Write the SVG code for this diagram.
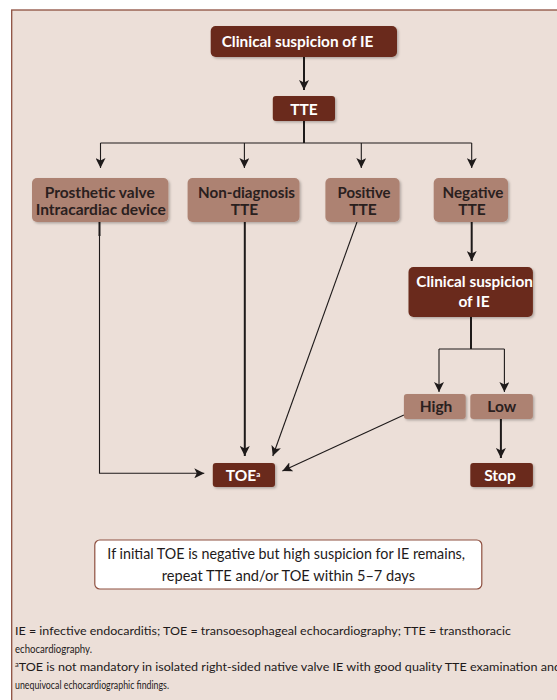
<svg xmlns="http://www.w3.org/2000/svg" width="557" height="700" viewBox="0 0 557 700">
<style>
.dark{fill:#6b2b1b}
.light{fill:#ad8272}
.tw{font-family:Lato,"Liberation Sans",sans-serif;font-weight:bold;font-size:15.5px;fill:#ffffff;text-anchor:middle}
.td{font-family:Lato,"Liberation Sans",sans-serif;font-weight:bold;font-size:15.5px;fill:#2a201e;text-anchor:middle}
.thin{stroke:#1e1a1a;stroke-width:1.1;fill:none}
.thick{stroke:#1e1a1a;stroke-width:2;fill:none}
.note{font-family:Lato,"Liberation Sans",sans-serif;font-size:15px;fill:#1e1a1a;text-anchor:middle}
.foot{font-family:Lato,"Liberation Sans",sans-serif;font-size:12px;fill:#1e1a1a}
</style>
<defs>
<filter id="sh" x="-20%" y="-20%" width="150%" height="160%">
<feDropShadow dx="1.5" dy="1.5" stdDeviation="1.2" flood-color="#000" flood-opacity="0.25"/>
</filter>
<marker id="ah" viewBox="0 0 10 10" refX="10" refY="5" markerWidth="10" markerHeight="10" markerUnits="userSpaceOnUse" orient="auto">
<path d="M0,0 L10,5 L0,10 L2.5,5 Z" fill="#1e1a1a"/>
</marker>
</defs>
<rect x="0" y="0" width="557" height="700" fill="#ffffff"/>
<rect x="11.7" y="10" width="560" height="700" fill="#ecdfd8" stroke="#8e5040" stroke-width="1.3"/>

<g id="connectors">
<path class="thick" d="M304,57 V90" marker-end="url(#ah)"/>
<path class="thick" d="M304,121 V143"/>
<path class="thin" d="M100.5,143 H471.7"/>
<path class="thin" d="M100.5,143 V168" marker-end="url(#ah)"/>
<path class="thin" d="M244.4,143 V168" marker-end="url(#ah)"/>
<path class="thin" d="M361.3,143 V168" marker-end="url(#ah)"/>
<path class="thin" d="M471.7,143 V168" marker-end="url(#ah)"/>
<path class="thick" d="M99.5,222 V236"/>
<path class="thin" d="M99.5,234 V473.3 H204.3" marker-end="url(#ah)"/>
<path class="thick" d="M244.8,222 V456" marker-end="url(#ah)"/>
<path class="thin" d="M357,222 L272.8,456" marker-end="url(#ah)"/>
<path class="thick" d="M471.7,222 V261" marker-end="url(#ah)"/>
<path class="thick" d="M471,317 V349"/>
<path class="thin" d="M439,349 H504.4"/>
<path class="thin" d="M439,349 V392" marker-end="url(#ah)"/>
<path class="thin" d="M504.4,349 V392" marker-end="url(#ah)"/>
<path class="thin" d="M403.9,415 L282.4,471" marker-end="url(#ah)"/>
<path class="thick" d="M500.9,419 V458" marker-end="url(#ah)"/>
</g>

<g id="n-clinical">
<rect class="dark" x="210.7" y="26" width="186.3" height="31" rx="5" filter="url(#sh)"/>
<text class="tw" x="297.5" y="46.7" textLength="151.6" lengthAdjust="spacingAndGlyphs">Clinical suspicion of IE</text>
</g>
<g id="n-tte">
<rect class="dark" x="272.8" y="96" width="62.2" height="25" rx="3" filter="url(#sh)"/>
<text class="tw" x="304" y="115">TTE</text>
</g>
<g id="n-prosthetic">
<rect class="light" x="32" y="178" width="136.4" height="44" rx="5" filter="url(#sh)"/>
<text class="td" x="99.7" y="198.3" textLength="110" lengthAdjust="spacingAndGlyphs">Prosthetic valve</text>
<text class="td" x="100.7" y="215" textLength="130" lengthAdjust="spacingAndGlyphs">Intracardiac device</text>
</g>
<g id="n-nondiag">
<rect class="light" x="187.6" y="178" width="111.9" height="44" rx="5" filter="url(#sh)"/>
<text class="td" x="246.5" y="198.3" textLength="97" lengthAdjust="spacingAndGlyphs">Non-diagnosis</text>
<text class="td" x="244.5" y="215">TTE</text>
</g>
<g id="n-positive">
<rect class="light" x="325.4" y="178" width="74.2" height="44" rx="5" filter="url(#sh)"/>
<text class="td" x="364" y="198.3" textLength="53" lengthAdjust="spacingAndGlyphs">Positive</text>
<text class="td" x="363" y="215">TTE</text>
</g>
<g id="n-negative">
<rect class="light" x="433.7" y="178" width="74.3" height="44" rx="5" filter="url(#sh)"/>
<text class="td" x="473" y="198.3" textLength="61" lengthAdjust="spacingAndGlyphs">Negative</text>
<text class="td" x="472" y="215">TTE</text>
</g>
<g id="n-clinical2">
<rect class="dark" x="408.5" y="267" width="124.4" height="50" rx="5" filter="url(#sh)"/>
<text class="tw" x="474.6" y="286.7" textLength="116.6" lengthAdjust="spacingAndGlyphs">Clinical suspicion</text>
<text class="tw" x="474" y="306.7">of IE</text>
</g>
<g id="n-high">
<rect class="light" x="403.9" y="394" width="61.8" height="25" rx="3" filter="url(#sh)"/>
<text class="td" x="436" y="412.3">High</text>
</g>
<g id="n-low">
<rect class="light" x="470.3" y="394" width="62.6" height="25" rx="3" filter="url(#sh)"/>
<text class="td" x="501.7" y="412.3">Low</text>
</g>
<g id="n-toe">
<rect class="dark" x="212.8" y="463" width="62.2" height="24" rx="3" filter="url(#sh)"/>
<text class="tw" x="243" y="480.7">TOE<tspan font-size="8" dy="-4">a</tspan></text>
</g>
<g id="n-stop">
<rect class="dark" x="470.3" y="463" width="62.6" height="24" rx="3" filter="url(#sh)"/>
<text class="tw" x="500" y="480.7">Stop</text>
</g>
<g id="n-note">
<rect x="94.8" y="540" width="387" height="49" rx="5" fill="#ffffff" stroke="#8e5040" stroke-width="1.2"/>
<text class="note" x="286.2" y="559" textLength="357.7" lengthAdjust="spacingAndGlyphs">If initial TOE is negative but high suspicion for IE remains,</text>
<text class="note" x="288.4" y="580.5" textLength="253.3" lengthAdjust="spacingAndGlyphs">repeat TTE and/or TOE within 5–7 days</text>
</g>
<g id="footnotes">
<text class="foot" x="15" y="635" textLength="496" lengthAdjust="spacingAndGlyphs">IE = infective endocarditis; TOE = transoesophageal echocardiography; TTE = transthoracic</text>
<text class="foot" x="15" y="653" textLength="77" lengthAdjust="spacingAndGlyphs">echocardiography.</text>
<text class="foot" x="15" y="671" textLength="546" lengthAdjust="spacingAndGlyphs"><tspan font-size="7" dy="-4.5">a</tspan><tspan dy="4.5">TOE is not mandatory in isolated right-sided native valve IE with good quality TTE examination and</tspan></text>
<text class="foot" x="15" y="688.5" textLength="154" lengthAdjust="spacingAndGlyphs">unequivocal echocardiographic findings.</text>
</g>
</svg>
